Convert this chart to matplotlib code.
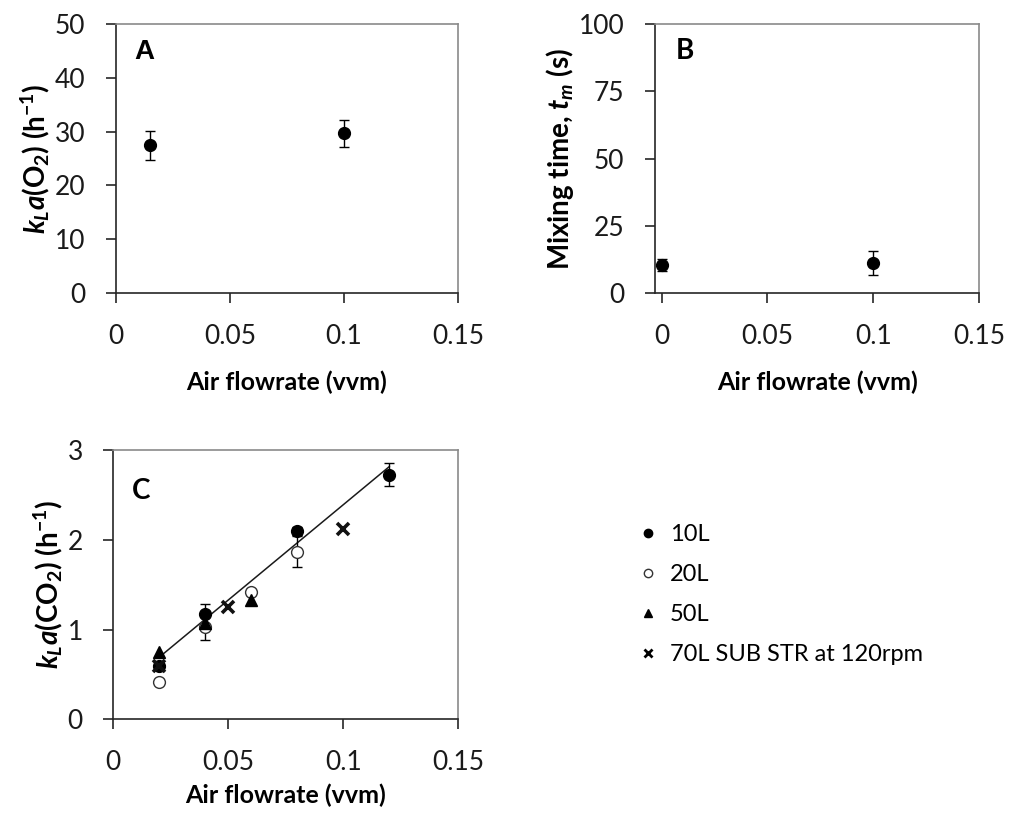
import numpy as np
import matplotlib
matplotlib.use("Agg")
import matplotlib.pyplot as plt
from matplotlib.lines import Line2D

# panel A: kLa(O2) vs air flowrate
a_x = [0.015, 0.10]
a_y = [27.5, 29.7]
a_err = [2.7, 2.5]

# panel B: mixing time vs air flowrate
b_x = [0.0, 0.10]
b_y = [10.5, 11.1]
b_err = [2.3, 4.4]

# panel C: kLa(CO2) per scale
c10_x = [0.02, 0.04, 0.08, 0.12]
c10_y = [0.60, 1.17, 2.10, 2.73]
c10_err = [0.03, 0.12, 0.04, 0.13]

c20_x = [0.02, 0.04, 0.06, 0.08]
c20_y = [0.42, 1.03, 1.42, 1.87]
c20_err = [0.03, 0.15, 0.03, 0.17]

c50_x = [0.02, 0.04, 0.06]
c50_y = [0.75, 1.07, 1.33]

c70_x = [0.02, 0.05, 0.10]
c70_y = [0.60, 1.25, 2.12]

legend_labels = ["10L", "20L", "50L", "70L SUB STR at 120rpm"]

x_ticks = [0, 0.05, 0.1, 0.15]
x_ticklabels = ["0", "0.05", "0.1", "0.15"]
a_yticks = [0, 10, 20, 30, 40, 50]
b_yticks = [0, 25, 50, 75, 100]
c_yticks = [0, 1, 2, 3]

plt.rcParams["font.family"] = ["Lato", "DejaVu Sans"]
plt.rcParams["mathtext.fontset"] = "custom"
plt.rcParams["mathtext.rm"] = "Lato:bold"
plt.rcParams["mathtext.it"] = "Lato:italic:bold"
plt.rcParams["mathtext.bf"] = "Lato:bold"

DARK = "#262626"
GREY = "#8a8a8a"
TICK_FS = 19
LAB_FS = 18
YLAB_FS = 20


def style_axes(ax, xlim, ylim, yticks, xlabpad):
    ax.set_xlim(*xlim)
    ax.set_ylim(*ylim)
    ax.set_xticks(x_ticks)
    ax.set_xticklabels(x_ticklabels)
    ax.set_yticks(yticks)
    ax.set_yticklabels([str(v) for v in yticks])
    for s in ["left", "bottom"]:
        ax.spines[s].set_color(DARK)
        ax.spines[s].set_linewidth(1.2)
    for s in ["top", "right"]:
        ax.spines[s].set_color(GREY)
        ax.spines[s].set_linewidth(1.2)
    ax.tick_params(direction="out", length=7, width=1.2, color=DARK,
                   labelsize=TICK_FS, pad=15, labelcolor="#1a1a1a")
    ax.set_xlabel("Air flowrate (vvm)", fontsize=LAB_FS, fontweight="bold",
                  labelpad=xlabpad)


fig = plt.figure(figsize=(10.11, 8.25), dpi=100)
ax_a = fig.add_axes([0.1147, 0.6448, 0.3383, 0.326])
ax_b = fig.add_axes([0.6479, 0.6448, 0.3205, 0.326])
ax_c = fig.add_axes([0.1121, 0.1281, 0.3412, 0.326])

ebkw = dict(ecolor="black", elinewidth=1, capsize=3.5, capthick=1, linestyle="none")

# A
ax_a.errorbar(a_x, a_y, yerr=a_err, marker="o", ms=8.5, mfc="black", mec="black", **ebkw)
style_axes(ax_a, (0, 0.15), (0, 50), a_yticks, 16)
ax_a.set_ylabel(r"$k_La$(O$_2$) (h$^{-1}$)", fontsize=YLAB_FS, fontweight="bold", labelpad=2)
ax_a.text(0.055, 0.87, "A", transform=ax_a.transAxes, fontsize=20, fontweight="bold",
          family="Liberation Sans")

# B
ax_b.errorbar(b_x, b_y, yerr=b_err, marker="o", ms=8.5, mfc="black", mec="black", **ebkw)
style_axes(ax_b, (-0.0031, 0.15), (0, 100), b_yticks, 16)
ax_b.set_ylabel(r"Mixing time, $t_m$ (s)", fontsize=YLAB_FS, fontweight="bold", labelpad=2)
ax_b.text(0.065, 0.87, "B", transform=ax_b.transAxes, fontsize=20, fontweight="bold")

# C
coef = np.polyfit(c10_x, c10_y, 1)
fx = np.array([min(c10_x), max(c10_x)])
ax_c.plot(fx, np.polyval(coef, fx), color="#1a1a1a", lw=1.1, zorder=1)
ax_c.errorbar(c20_x, c20_y, yerr=c20_err, marker="o", ms=8.5, mfc="white", mec="#333333",
              mew=1, zorder=3, **ebkw)
ax_c.errorbar(c10_x, c10_y, yerr=c10_err, marker="o", ms=8.5, mfc="black", mec="black",
              zorder=3, **ebkw)
ax_c.plot(c50_x, c50_y, linestyle="none", marker="^", ms=8, mfc="black", mec="black", zorder=4)
ax_c.plot(c70_x, c70_y, linestyle="none", marker="x", ms=8.5, mew=2.6, color="#111111", zorder=4)
style_axes(ax_c, (0, 0.15), (0, 3), c_yticks, 6)
ax_c.set_ylabel(r"$k_La$(CO$_2$) (h$^{-1}$)", fontsize=YLAB_FS, fontweight="bold", labelpad=2)
ax_c.text(0.055, 0.82, "C", transform=ax_c.transAxes, fontsize=20, fontweight="bold")

handles = [
    Line2D([], [], linestyle="none", marker="o", ms=6, mfc="black", mec="black"),
    Line2D([], [], linestyle="none", marker="o", ms=6, mfc="white", mec="#333333"),
    Line2D([], [], linestyle="none", marker="^", ms=6, mfc="black", mec="black"),
    Line2D([], [], linestyle="none", marker="x", ms=6, mew=2, color="black"),
]
fig.legend(handles, legend_labels, loc="center left", bbox_to_anchor=(0.632, 0.279),
           frameon=False, fontsize=17, handlelength=0.8, handletextpad=0.5,
           labelspacing=0.8, borderpad=0, borderaxespad=0)

fig.savefig("out.png", dpi=100)
